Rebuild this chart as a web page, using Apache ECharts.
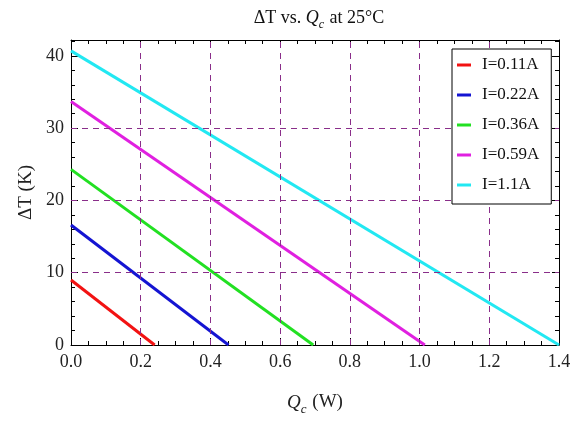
<!DOCTYPE html>
<html>
<head>
<meta charset="utf-8">
<script src="https://cdn.jsdelivr.net/npm/echarts@6/dist/echarts.min.js"></script>
<style>
  html, body { margin: 0; padding: 0; background: #fff; }
  #chart { width: 577px; height: 421px; }
</style>
</head>
<body>
<div id="chart"></div>
<script>
// one straight line per current: from (0, dtMax) down to (qcMax, 0)
const currents = ['I=0.11A', 'I=0.22A', 'I=0.36A', 'I=0.59A', 'I=1.1A'];
const dtMax = [9.0, 16.6, 24.3, 33.7, 40.7];      // ΔT at Qc = 0 (K)
const qcMax = [0.24, 0.452, 0.695, 1.015, 1.4];   // Qc at ΔT = 0 (W)
const colors = ['#f21212', '#1414d2', '#22e022', '#e020e0', '#22e8f2'];

const gridX = [0.2, 0.4, 0.6, 0.8, 1.0, 1.2];
const gridY = [10, 20, 30];

const SERIF = '"Liberation Serif", "DejaVu Serif", serif';
const sub = {
  n: { fontFamily: SERIF, fontSize: 19, color: '#222', verticalAlign: 'bottom' },
  i: { fontFamily: SERIF, fontSize: 19, color: '#222', fontStyle: 'italic', verticalAlign: 'bottom' },
  s: { fontFamily: SERIF, fontSize: 13, color: '#222', fontStyle: 'italic', verticalAlign: 'bottom', padding: [0, 1, -4, 0] }
};

const series = currents.map((name, k) => ({
  name: name,
  type: 'line',
  data: [[0, dtMax[k]], [qcMax[k], 0]],
  showSymbol: false,
  symbol: 'none',
  lineStyle: { color: colors[k], width: 3 },
  itemStyle: { color: colors[k] },
  z: 3
}));

// dashed purple grid lines
series.push({
  type: 'line',
  data: [],
  silent: true,
  markLine: {
    symbol: 'none',
    label: { show: false },
    lineStyle: { color: '#8a2e8a', type: [6, 5], width: 1 },
    data: gridX.map(v => ({ xAxis: v })).concat(gridY.map(v => ({ yAxis: v })))
  },
  z: 1
});

const axisLine = { onZero: false, lineStyle: { color: '#000', width: 1 } };
const axisTick = { inside: true, length: 7, lineStyle: { color: '#000' } };
const xMinor = { show: true, splitNumber: 4, length: 4, lineStyle: { color: '#000' } };
const yMinor = { show: true, splitNumber: 5, length: 4, lineStyle: { color: '#000' } };

const option = {
  animation: false,
  backgroundColor: '#fff',
  title: {
    text: '{n|ΔT vs. }{i|Q}{s|c}{n| at 25°C}',
    left: 314,
    top: 4,
    textAlign: 'center',
    textStyle: {
      rich: {
        n: { fontFamily: SERIF, fontSize: 18, fontWeight: 'normal', color: '#111', verticalAlign: 'bottom' },
        i: { fontFamily: SERIF, fontSize: 18, fontWeight: 'normal', color: '#111', fontStyle: 'italic', verticalAlign: 'bottom' },
        s: { fontFamily: SERIF, fontSize: 12, fontWeight: 'normal', color: '#111', fontStyle: 'italic', verticalAlign: 'bottom', padding: [0, 1, -4, 0] }
      }
    }
  },
  legend: {
    data: currents,
    orient: 'vertical',
    left: 452,
    top: 49,
    backgroundColor: '#fff',
    borderColor: '#000',
    borderWidth: 1,
    padding: [1, 12, 4, 5],
    icon: 'rect',
    itemWidth: 14,
    itemHeight: 3,
    itemGap: 0,
    textStyle: { fontFamily: SERIF, fontSize: 17, color: '#111', lineHeight: 30, padding: [0, 0, 0, 6] },
    z: 10
  },
  grid: { left: 71, right: 18, top: 40, bottom: 76 },
  xAxis: [
    {
      type: 'value',
      min: 0,
      max: 1.4,
      interval: 0.2,
      position: 'bottom',
      axisLine: axisLine,
      axisTick: axisTick,
      minorTick: xMinor,
      splitLine: { show: false },
      axisLabel: { fontFamily: SERIF, fontSize: 18, color: '#222', margin: 8, formatter: v => v.toFixed(1) },
      name: '{i|Q}{s|c}{n| (W)}',
      nameLocation: 'middle',
      nameGap: 48,
      nameTextStyle: { rich: sub }
    },
    {
      type: 'value',
      min: 0,
      max: 1.4,
      interval: 0.2,
      position: 'top',
      axisLine: axisLine,
      axisTick: axisTick,
      minorTick: xMinor,
      axisLabel: { show: false },
      splitLine: { show: false }
    }
  ],
  yAxis: [
    {
      type: 'value',
      min: 0,
      max: 42.2,
      interval: 10,
      position: 'left',
      axisLine: axisLine,
      axisTick: axisTick,
      minorTick: yMinor,
      splitLine: { show: false },
      axisLabel: { fontFamily: SERIF, fontSize: 18, color: '#222', margin: 7, showMaxLabel: false },
      name: 'ΔT (K)',
      nameLocation: 'middle',
      nameGap: 35,
      nameTextStyle: { fontFamily: SERIF, fontSize: 19, color: '#222' }
    },
    {
      type: 'value',
      min: 0,
      max: 42.2,
      interval: 10,
      position: 'right',
      axisLine: axisLine,
      axisTick: axisTick,
      minorTick: yMinor,
      axisLabel: { show: false },
      splitLine: { show: false }
    }
  ],
  series: series
};

const myChart = echarts.init(document.getElementById('chart'));
myChart.setOption(option);
</script>
</body>
</html>
